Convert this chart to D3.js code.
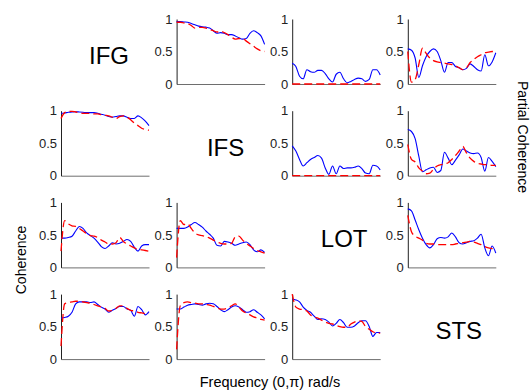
<!DOCTYPE html>
<html>
<head>
<meta charset="utf-8">
<script src="https://cdn.jsdelivr.net/npm/d3@7"></script>
<style>
  body { margin: 0; background: #fff; }
  svg { display: block; font-family: "Liberation Sans", Arial, sans-serif; }
</style>
</head>
<body>
<script>
// regions on the diagonal, in row / column order
var regions = ["IFG", "IFS", "LOT", "STS"];
var yTicks = [0, 0.5, 1];

// coherence (blue) and partial coherence (red), 25 samples over (0, pi)
var coh_0_1 = [0.96, 0.96, 0.955, 0.95, 0.93, 0.91, 0.89, 0.88, 0.875, 0.86, 0.82, 0.78, 0.79, 0.78, 0.76, 0.76, 0.74, 0.71, 0.69, 0.70, 0.78, 0.82, 0.79, 0.74, 0.61];
var pco_0_1 = [0.95, 0.95, 0.94, 0.93, 0.90, 0.86, 0.87, 0.87, 0.86, 0.84, 0.82, 0.80, 0.81, 0.79, 0.76, 0.72, 0.69, 0.70, 0.70, 0.66, 0.62, 0.58, 0.54, 0.51, 0.50];
var coh_0_2 = [0.32, 0.27, 0.12, 0.08, 0.22, 0.19, 0.18, 0.21, 0.21, 0.16, 0.08, 0.03, 0.15, 0.18, 0.08, 0.02, 0.04, 0.07, 0.09, 0.08, 0.04, 0.07, 0.22, 0.22, 0.14];
var pco_0_2 = [0, 0, 0, 0, 0, 0, 0, 0, 0, 0, 0, 0, 0, 0, 0, 0, 0, 0, 0, 0, 0, 0, 0, 0, 0];
var coh_0_3 = [0.54, 0.52, 0.40, 0.10, 0.28, 0.42, 0.50, 0.54, 0.50, 0.36, 0.18, 0.33, 0.33, 0.27, 0.25, 0.22, 0.24, 0.31, 0.27, 0.22, 0.20, 0.45, 0.28, 0.34, 0.48];
var pco_0_3 = [0.50, 0.03, 0.07, 0.30, 0.55, 0.47, 0.40, 0.36, 0.34, 0.33, 0.32, 0.31, 0.30, 0.28, 0.25, 0.22, 0.25, 0.33, 0.38, 0.42, 0.45, 0.48, 0.49, 0.50, 0.50];

var coh_1_0 = [0.96, 0.965, 0.975, 0.98, 0.985, 0.98, 0.975, 0.97, 0.97, 0.97, 0.96, 0.945, 0.93, 0.91, 0.90, 0.91, 0.92, 0.92, 0.90, 0.88, 0.88, 0.92, 0.89, 0.84, 0.77];
var pco_1_0 = [0.88, 0.97, 0.99, 0.99, 0.98, 0.97, 0.96, 0.96, 0.96, 0.95, 0.95, 0.94, 0.93, 0.92, 0.90, 0.88, 0.91, 0.92, 0.90, 0.86, 0.81, 0.77, 0.73, 0.71, 0.70];
var coh_1_2 = [0.46, 0.38, 0.25, 0.15, 0.20, 0.25, 0.28, 0.31, 0.27, 0.12, 0.02, 0.15, 0.03, 0.15, 0.11, 0.12, 0.12, 0.13, 0.15, 0.11, 0.04, 0.03, 0.16, 0.15, 0.09];
var pco_1_2 = [0, 0, 0, 0, 0, 0, 0, 0, 0, 0, 0, 0, 0, 0, 0, 0, 0, 0, 0, 0, 0, 0, 0, 0, 0];
var coh_1_3 = [0.71, 0.68, 0.57, 0.30, 0.06, 0.09, 0.12, 0.13, 0.05, 0.08, 0.36, 0.27, 0.17, 0.24, 0.32, 0.41, 0.38, 0.35, 0.34, 0.35, 0.28, 0.07, 0.28, 0.22, 0.14];
var pco_1_3 = [0.48, 0.25, 0.21, 0.12, 0.07, 0.03, 0.04, 0.10, 0.15, 0.17, 0.18, 0.20, 0.25, 0.31, 0.38, 0.45, 0.35, 0.27, 0.22, 0.19, 0.18, 0.17, 0.17, 0.16, 0.16];

var coh_2_0 = [0.45, 0.45, 0.46, 0.48, 0.56, 0.63, 0.60, 0.53, 0.49, 0.45, 0.39, 0.32, 0.29, 0.33, 0.38, 0.36, 0.37, 0.40, 0.43, 0.40, 0.31, 0.25, 0.33, 0.35, 0.35];
var pco_2_0 = [0.25, 0.72, 0.67, 0.64, 0.63, 0.60, 0.56, 0.52, 0.49, 0.48, 0.46, 0.42, 0.39, 0.36, 0.36, 0.38, 0.46, 0.40, 0.36, 0.33, 0.30, 0.28, 0.27, 0.26, 0.25];
var coh_2_1 = [0.60, 0.60, 0.60, 0.62, 0.66, 0.69, 0.66, 0.62, 0.56, 0.51, 0.45, 0.34, 0.33, 0.40, 0.39, 0.37, 0.34, 0.36, 0.38, 0.39, 0.35, 0.27, 0.24, 0.27, 0.23];
var pco_2_1 = [0.15, 0.72, 0.66, 0.67, 0.60, 0.53, 0.50, 0.49, 0.47, 0.45, 0.42, 0.39, 0.37, 0.36, 0.36, 0.37, 0.47, 0.48, 0.42, 0.37, 0.33, 0.29, 0.26, 0.24, 0.22];
var coh_2_3 = [0.90, 0.87, 0.73, 0.58, 0.45, 0.35, 0.30, 0.35, 0.44, 0.46, 0.45, 0.47, 0.53, 0.47, 0.38, 0.36, 0.38, 0.40, 0.41, 0.45, 0.51, 0.30, 0.18, 0.33, 0.22];
var pco_2_3 = [0.80, 0.55, 0.48, 0.45, 0.42, 0.37, 0.36, 0.36, 0.35, 0.35, 0.35, 0.35, 0.35, 0.36, 0.37, 0.38, 0.39, 0.40, 0.39, 0.37, 0.35, 0.32, 0.30, 0.29, 0.28];

var coh_3_0 = [0.63, 0.64, 0.66, 0.72, 0.85, 0.88, 0.88, 0.88, 0.87, 0.88, 0.84, 0.80, 0.77, 0.72, 0.75, 0.78, 0.81, 0.81, 0.77, 0.75, 0.66, 0.81, 0.76, 0.68, 0.73];
var pco_3_0 = [0.20, 0.85, 0.87, 0.88, 0.89, 0.89, 0.88, 0.87, 0.86, 0.84, 0.82, 0.80, 0.78, 0.74, 0.75, 0.78, 0.82, 0.82, 0.78, 0.75, 0.74, 0.72, 0.71, 0.70, 0.70];
var coh_3_1 = [0.77, 0.77, 0.80, 0.83, 0.84, 0.85, 0.84, 0.83, 0.85, 0.86, 0.85, 0.81, 0.76, 0.73, 0.76, 0.80, 0.82, 0.80, 0.76, 0.72, 0.73, 0.76, 0.72, 0.68, 0.62];
var pco_3_1 = [0.15, 0.82, 0.87, 0.88, 0.87, 0.86, 0.85, 0.85, 0.84, 0.83, 0.81, 0.79, 0.77, 0.77, 0.79, 0.82, 0.85, 0.80, 0.74, 0.71, 0.68, 0.65, 0.63, 0.61, 0.60];
var coh_3_2 = [0.92, 0.91, 0.88, 0.80, 0.75, 0.72, 0.66, 0.61, 0.62, 0.61, 0.57, 0.51, 0.55, 0.61, 0.56, 0.49, 0.49, 0.51, 0.56, 0.59, 0.59, 0.50, 0.35, 0.41, 0.41];
var pco_3_2 = [1.00, 0.80, 0.77, 0.76, 0.74, 0.68, 0.65, 0.63, 0.60, 0.57, 0.55, 0.54, 0.52, 0.50, 0.49, 0.49, 0.54, 0.57, 0.59, 0.58, 0.50, 0.46, 0.42, 0.40, 0.40];

var series = {
    "0_1": [coh_0_1, pco_0_1], "0_2": [coh_0_2, pco_0_2], "0_3": [coh_0_3, pco_0_3],
    "1_0": [coh_1_0, pco_1_0], "1_2": [coh_1_2, pco_1_2], "1_3": [coh_1_3, pco_1_3],
    "2_0": [coh_2_0, pco_2_0], "2_1": [coh_2_1, pco_2_1], "2_3": [coh_2_3, pco_2_3],
    "3_0": [coh_3_0, pco_3_0], "3_1": [coh_3_1, pco_3_1], "3_2": [coh_3_2, pco_3_2]
};

var W = 531, H = 391;
var pw = 88, ph = 65;
var col0 = 61, colStep = 115.6;
var row0 = 19, rowStep = 91.7;

var svg = d3.select("body").append("svg").attr("width", W).attr("height", H);

var x = d3.scaleLinear().domain([0, Math.PI]).range([0, pw]);
var y = d3.scaleLinear().domain([0, 1]).range([ph, 0]);

function freq(i, n) { return i / (n - 1) * Math.PI; }

var line = d3.line()
    .x((d, i, arr) => x(freq(i, arr.length)))
    .y(d => y(d))
    .curve(d3.curveMonotoneX);

// small nudges of the diagonal names, as in the figure
var labelDx = [4, 5, 8, 7];

regions.forEach((rowName, r) => {
    regions.forEach((colName, c) => {
        var g = svg.append("g")
            .attr("transform", "translate(" + [col0 + c * colStep, row0 + r * rowStep] + ")");

        if (r === c) {
            g.append("text").text(rowName)
                .attr("x", pw / 2 + labelDx[r]).attr("y", ph / 2 + 4)
                .attr("text-anchor", "middle").attr("dominant-baseline", "central")
                .attr("font-size", 24).attr("fill", "#000");
            return;
        }

        var xa = g.append("g").attr("transform", "translate(0," + ph + ")")
            .call(d3.axisBottom(x).tickValues([]).tickSizeOuter(0));
        xa.select(".domain").attr("stroke", "#6e6e6e");

        var ya = g.append("g")
            .call(d3.axisLeft(y).tickValues(yTicks).tickSize(0).tickPadding(4)
                .tickFormat(d3.format("")).tickSizeOuter(0));
        ya.select(".domain").attr("stroke", "#222");
        ya.selectAll("text").attr("font-size", 13).attr("fill", "#222")
            .attr("font-family", "Liberation Sans, Arial, sans-serif");

        var s = series[r + "_" + c];
        g.append("path").datum(s[0]).attr("d", line)
            .attr("fill", "none").attr("stroke", "#0000ff").attr("stroke-width", 1.1);
        g.append("path").datum(s[1]).attr("d", line)
            .attr("fill", "none").attr("stroke", "#ff0000").attr("stroke-width", 1.3)
            .attr("stroke-dasharray", "8,4");
    });
});

svg.append("text").text("Coherence")
    .attr("transform", "translate(26,260) rotate(-90)")
    .attr("text-anchor", "middle").attr("font-size", 14);

svg.append("text").text("Partial Coherence")
    .attr("transform", "translate(518,137) rotate(90)")
    .attr("text-anchor", "middle").attr("font-size", 14);

svg.append("text").text("Frequency (0,\u03c0) rad/s")
    .attr("x", 270).attr("y", 387)
    .attr("text-anchor", "middle").attr("font-size", 14.5);
</script>
</body>
</html>
